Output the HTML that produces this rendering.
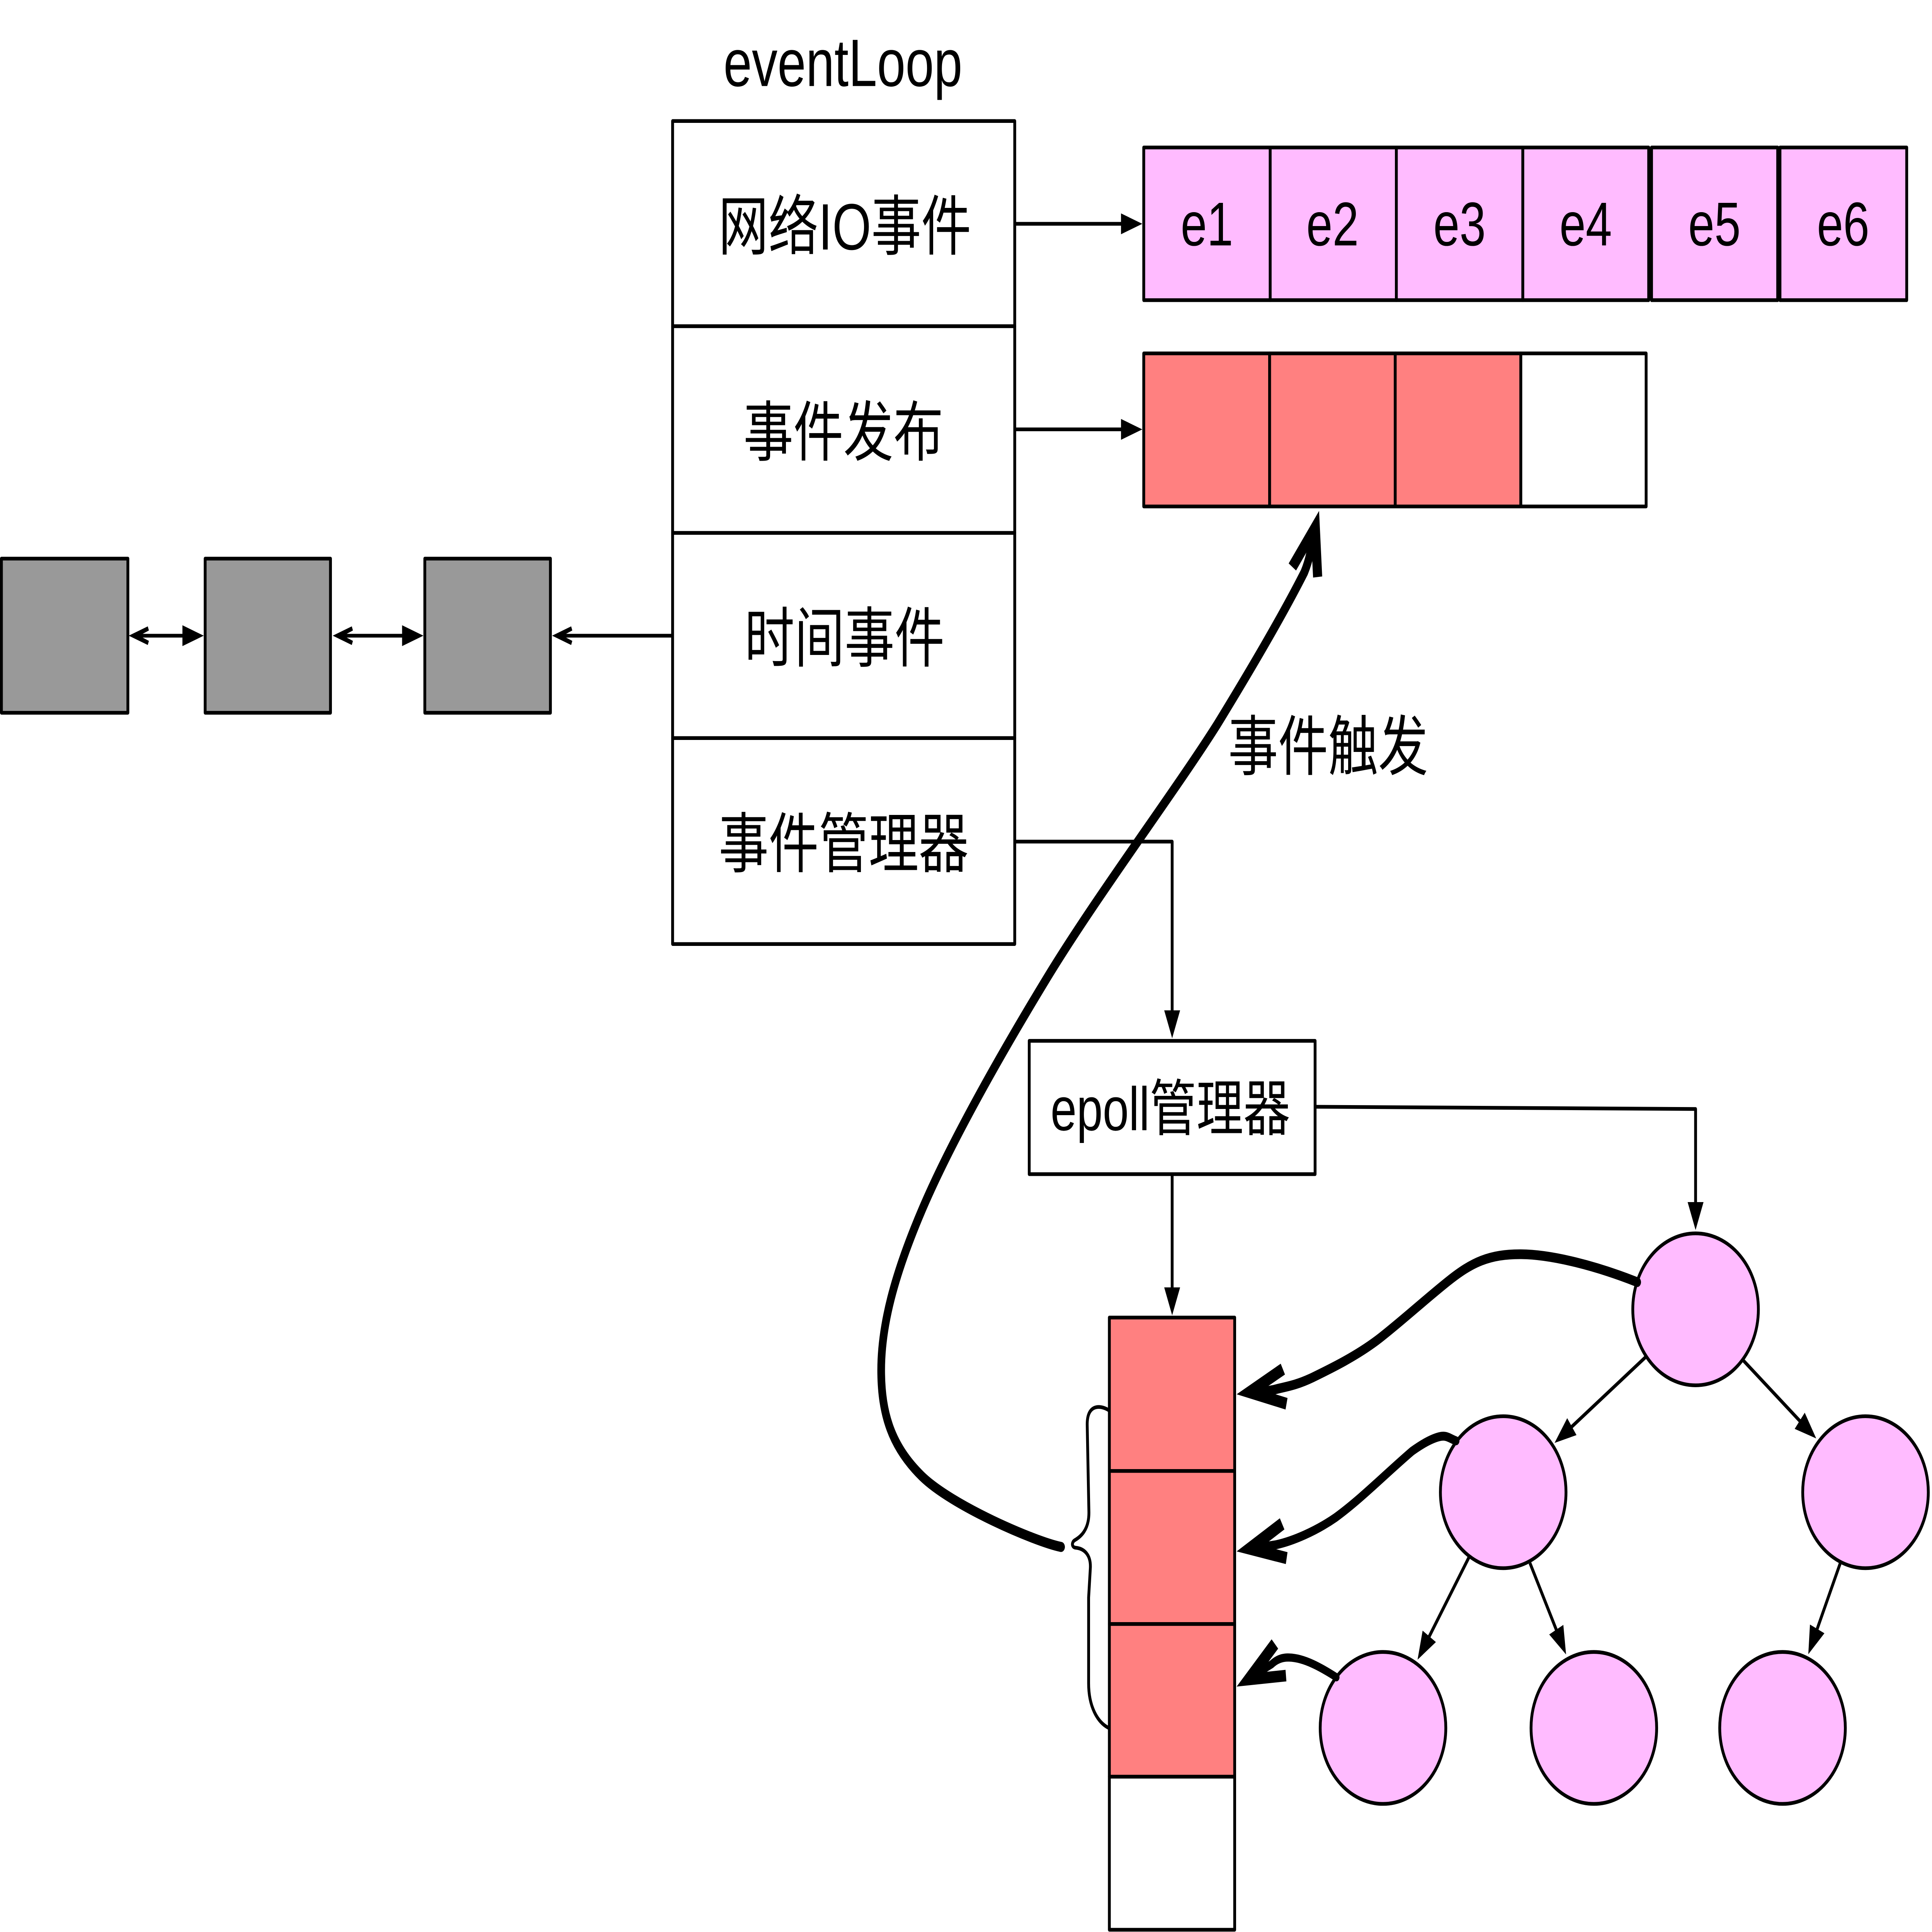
<!DOCTYPE html>
<html>
<head>
<meta charset="utf-8">
<style>
html,body{margin:0;padding:0;background:#fff;width:100%;height:100%;overflow:hidden}
svg{display:block;width:100vw;height:100vh}
text{font-family:"Liberation Sans","Noto Sans CJK SC",sans-serif;fill:#000}
</style>
</head>
<body>
<svg xmlns="http://www.w3.org/2000/svg" viewBox="0 0 6799 5188" preserveAspectRatio="none">
<defs>
<marker id="a" markerUnits="userSpaceOnUse" markerWidth="80" markerHeight="60" refX="55" refY="30" orient="auto">
<path d="M0 2 L75 30 L0 58 Z" fill="#000"/>
</marker>
</defs>
<rect width="6799" height="5188" fill="#fff"/>

<!-- main table -->
<g fill="#fff" stroke="#000" stroke-width="10" stroke-linejoin="round">
<rect x="2367" y="325" width="1204" height="551"/>
<rect x="2367" y="876" width="1204" height="555"/>
<rect x="2367" y="1431" width="1204" height="551"/>
<rect x="2367" y="1982" width="1204" height="553"/>
</g>
<text x="2546" y="231" font-size="180">eventLoop</text>
<g font-size="176" text-anchor="middle">
<text x="2973" y="670">网络IO事件</text>
<text x="2968" y="1223">事件发布</text>
<text x="2972" y="1776">时间事件</text>
<text x="2969" y="2328">事件管理器</text>
</g>

<!-- pink row -->
<g fill="#ffbbff" stroke="#000" stroke-width="10" stroke-linejoin="round">
<rect x="4025" y="396" width="445" height="410"/>
<rect x="4470" y="396" width="444" height="410"/>
<rect x="4914" y="396" width="445" height="410"/>
<rect x="5359" y="396" width="443" height="410"/>
<rect x="5812" y="396" width="444" height="410"/>
<rect x="6264" y="396" width="446" height="410"/>
</g>
<g font-size="166">
<text x="4155" y="659">e1</text>
<text x="4597" y="659">e2</text>
<text x="5044" y="659">e3</text>
<text x="5488" y="659">e4</text>
<text x="5941" y="659">e5</text>
<text x="6394" y="659">e6</text>
</g>

<!-- red row -->
<g fill="#ff8080" stroke="#000" stroke-width="10" stroke-linejoin="round">
<rect x="4025" y="949" width="443" height="411"/>
<rect x="4468" y="949" width="442" height="411"/>
<rect x="4910" y="949" width="442" height="411"/>
<rect x="5352" y="949" width="441" height="411" fill="#fff"/>
</g>

<!-- gray boxes -->
<g fill="#999" stroke="#000" stroke-width="10" stroke-linejoin="round">
<rect x="5" y="1500" width="445" height="414"/>
<rect x="722" y="1500" width="441" height="414"/>
<rect x="1495" y="1500" width="442" height="414"/>
</g>
<g stroke="#000" stroke-width="10" fill="none">
<path d="M490 1707 H650"/>
<path d="M1208 1707 H1425"/>
<path d="M1980 1707 H2367"/>
</g>
<g fill="#000">
<path d="M453 1707 L520 1682 L524 1693 L502 1702 V1712 L524 1721 L520 1732 Z"/>
<path d="M1171 1707 L1238 1682 L1242 1693 L1220 1702 V1712 L1242 1721 L1238 1732 Z"/>
<path d="M1943 1707 L2010 1682 L2014 1693 L1992 1702 V1712 L2014 1721 L2010 1732 Z"/>
<path d="M642 1679 L717 1707 L642 1735 Z"/>
<path d="M1415 1679 L1490 1707 L1415 1735 Z"/>
</g>

<!-- epoll box -->
<rect x="3622" y="2795" width="1006" height="358" fill="#fff" stroke="#000" stroke-width="10" stroke-linejoin="round"/>
<text x="3697" y="3035" font-size="165">epoll管理器</text>

<!-- red stack -->
<g fill="#ff8080" stroke="#000" stroke-width="10" stroke-linejoin="round">
<rect x="3904" y="3538" width="441" height="412"/>
<rect x="3904" y="3950" width="441" height="411"/>
<rect x="3904" y="4361" width="441" height="410"/>
<rect x="3904" y="4771" width="441" height="411" fill="#fff"/>
</g>

<!-- tree nodes -->
<g fill="#ffbbff" stroke="#000" stroke-width="10">
<ellipse cx="5967" cy="3516" rx="221" ry="204"/>
<ellipse cx="5290" cy="4007" rx="221" ry="204"/>
<ellipse cx="6565" cy="4007" rx="221" ry="204"/>
<ellipse cx="4867" cy="4640" rx="221" ry="204"/>
<ellipse cx="5609" cy="4640" rx="221" ry="204"/>
<ellipse cx="6273" cy="4640" rx="221" ry="204"/>
</g>

<!-- thin arrows -->
<g fill="none" stroke="#000" stroke-width="10" stroke-linejoin="round">
<path d="M3571 601 H4000" marker-end="url(#a)"/>
<path d="M3571 1153 H4000" marker-end="url(#a)"/>
<path d="M3572 2260 H4125 V2768" marker-end="url(#a)"/>
<path d="M4125 3153 V3512" marker-end="url(#a)"/>
<path d="M4628 2972 L5967 2978 V3283" marker-end="url(#a)"/>
<path d="M5790 3645 L5487 3863" marker-end="url(#a)"/>
<path d="M6136 3654 L6376 3850" marker-end="url(#a)"/>
<path d="M5170 4181 L4999.6 4440" marker-end="url(#a)"/>
<path d="M5384 4197 L5502 4425" marker-end="url(#a)"/>
<path d="M6476 4198 L6372 4424" marker-end="url(#a)"/>
<!-- brace -->
<path d="M3904 3788 C3880 3775 3826 3765 3826 3825 L3832 4060 C3833 4110 3800 4128 3782 4136 C3770 4142 3772 4155 3785 4156 C3815 4158 3840 4175 3837 4212 L3831 4290 L3831 4520 C3831 4580 3860 4625 3904 4641"/>
</g>

<!-- thick curves -->
<g fill="none" stroke="#000" stroke-linecap="round" stroke-linejoin="round">
<path stroke-width="27" d="M3734 4154 C3640 4139 3349.5 4043 3244 3964 C3138.5 3885 3101 3798 3101 3679 C3101 3560 3146 3426 3244 3250 C3342 3074 3514 2840 3687 2623 C3860 2406 4133 2127 4283 1946 C4420 1775 4525 1635 4590 1537 C4610 1500 4615 1470 4625 1420"/>
<path stroke-width="26" d="M5762 3443 C5620 3400 5463 3368.5 5352 3368 C5241 3367.5 5179 3390 5097 3440 C5015 3490 4938 3544 4858 3592 C4778 3640 4681 3676 4619 3699 C4556 3722 4519.5 3724 4483 3732 L4410 3742"/>
<path stroke-width="24" d="M5124 3869 C5100 3862 5091 3853 5065 3858 C5039 3863 5009 3875 4969 3897 C4880 3955 4790 4025 4700 4075 C4630 4112 4550 4138 4491 4148 L4410 4158"/>
<path stroke-width="22" d="M4703 4504 C4650 4478 4590 4452 4537 4451 C4510 4450 4490 4458 4475 4469 L4410 4500"/>
</g>
<g fill="#000">
<path d="M4642 1372 L4535 1513 L4561 1532 L4615 1460 L4621 1551 L4653 1548 Z"/>
<path d="M4352 3744 L4507 3662 L4522 3691 L4442 3733 L4531 3754 L4524 3785 Z"/>
<path d="M4352 4166 L4504 4077 L4520 4107 L4445 4151 L4531 4168 L4525 4200 Z"/>
<path d="M4352 4529 L4475 4402 L4498 4427 L4436 4491 L4524 4484 L4527 4515 Z"/>
</g>

<text x="4322" y="2067" font-size="176">事件触发</text>
</svg>
</body>
</html>
